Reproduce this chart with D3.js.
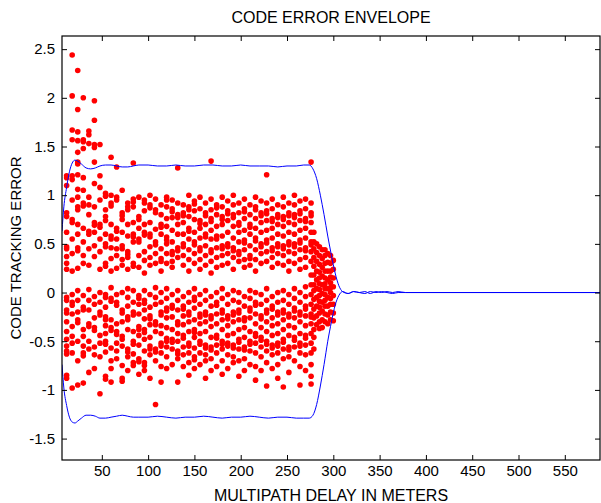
<!DOCTYPE html>
<html><head><meta charset="utf-8">
<script src="https://cdn.jsdelivr.net/npm/d3@7"></script>
<style>body{margin:0;background:#fff}svg{display:block}text{font-family:"Liberation Sans",Arial,sans-serif;fill:#000}</style>
</head><body><svg id="c" width="601" height="503"></svg>
<script>
const xCols = [12,18,24,30,36,42,48,54,60,66,72,78,84,90,96,102,108,114,120,126,132,138,144,150,156,162,168,174,180,186,192,198,204,210,216,222,228,234,240,246,252,258,264,270,276,279,282,285,288,291,294,297,300];
const yCols = [
[1.20,1.18,1.10,0.82,0.78,0.62,0.47,0.45,0.37,0.30,0.24,-0.05,-0.08,-0.18,-0.21,-0.30,-0.40,-0.48,-0.55,-0.60,-0.63,-0.85,-0.88],
[2.44,2.02,1.67,1.57,1.20,1.16,0.95,0.75,0.72,0.55,0.40,0.22,-0.02,-0.10,-0.13,-0.22,-0.35,-0.45,-0.52,-0.62,-0.98],
[2.28,1.88,1.65,1.56,1.44,1.34,1.32,1.21,1.06,0.98,0.88,0.85,0.70,0.60,0.46,0.43,0.25,0.02,-0.08,-0.20,-0.28,-0.31,-0.50,-0.70,-0.95],
[2.00,1.57,1.55,1.48,1.18,1.05,0.92,0.89,0.66,0.52,0.38,0.30,-0.03,-0.15,-0.18,-0.38,-0.45,-0.55,-0.62,-0.65,-0.93],
[1.66,1.62,1.53,0.98,0.90,0.80,0.63,0.60,0.45,0.28,0.03,-0.08,-0.18,-0.32,-0.35,-0.50,-0.58,-0.82],
[1.97,1.77,1.52,1.49,1.34,1.12,0.88,0.72,0.69,0.62,0.48,0.37,-0.04,-0.12,-0.26,-0.36,-0.39,-0.56,-0.64,-0.78],
[1.52,1.20,1.08,0.95,0.70,0.67,0.55,0.42,0.24,0.00,-0.10,-0.20,-0.23,-0.44,-0.52,-0.66,-1.04],
[1.02,0.99,0.85,0.78,0.74,0.60,0.50,0.47,0.30,0.27,-0.02,-0.05,-0.15,-0.25,-0.28,-0.34,-0.42,-0.50,-0.53,-0.61,-0.86,-0.89],
[1.39,1.00,0.92,0.89,0.70,0.58,0.55,0.46,0.35,0.22,0.05,-0.06,-0.09,-0.28,-0.36,-0.39,-0.57,-0.70,-0.78,-0.92],
[1.29,0.98,0.95,0.66,0.63,0.55,0.45,0.38,0.25,-0.02,-0.10,-0.13,-0.32,-0.40,-0.43,-0.52,-0.60,-0.68],
[1.05,0.82,0.79,0.75,0.62,0.48,0.45,0.34,0.28,0.00,-0.18,-0.21,-0.30,-0.45,-0.48,-0.55,-0.75,-0.88,-0.91],
[0.92,0.88,0.85,0.70,0.58,0.42,0.39,0.36,0.24,0.04,-0.05,-0.14,-0.25,-0.28,-0.38,-0.58,-0.61,-0.66,-0.80],
[1.33,0.96,0.93,0.88,0.72,0.60,0.57,0.52,0.30,0.27,0.02,-0.10,-0.20,-0.23,-0.40,-0.50,-0.53,-0.63,-0.72,-0.75],
[0.98,0.78,0.75,0.66,0.55,0.52,0.38,0.26,-0.03,-0.06,-0.12,-0.22,-0.35,-0.38,-0.44,-0.54,-0.68,-0.71,-0.84],
[0.95,0.92,0.84,0.70,0.62,0.59,0.42,0.33,0.20,0.02,-0.08,-0.11,-0.18,-0.27,-0.38,-0.41,-0.48,-0.60,-0.72,-0.75,-0.80],
[1.00,0.90,0.87,0.72,0.60,0.57,0.47,0.36,0.28,-0.02,-0.15,-0.24,-0.27,-0.33,-0.46,-0.55,-0.58,-0.64,-0.88],
[0.96,0.85,0.82,0.65,0.52,0.49,0.40,0.30,0.05,-0.05,-0.12,-0.30,-0.33,-0.40,-0.58,-0.61,-0.70,-1.15],
[0.90,0.80,0.70,0.67,0.60,0.45,0.35,0.32,0.22,0.00,-0.10,-0.20,-0.23,-0.34,-0.42,-0.52,-0.55,-0.62,-0.76,-0.92],
[0.98,0.95,0.88,0.76,0.68,0.57,0.54,0.50,0.40,0.30,0.04,-0.06,-0.16,-0.19,-0.26,-0.36,-0.47,-0.50,-0.56,-0.66,-0.78],
[0.95,0.86,0.83,0.77,0.64,0.52,0.42,0.39,0.32,0.26,-0.02,-0.13,-0.16,-0.25,-0.38,-0.48,-0.51,-0.58,-0.74],
[1.28,0.92,0.80,0.77,0.70,0.60,0.46,0.43,0.36,0.02,-0.08,-0.18,-0.30,-0.33,-0.42,-0.50,-0.60,-0.63,-0.68,-0.92],
[0.90,0.82,0.79,0.72,0.60,0.50,0.47,0.38,0.28,-0.04,-0.14,-0.17,-0.24,-0.33,-0.44,-0.47,-0.56,-0.64,-0.76],
[1.00,0.88,0.85,0.78,0.66,0.63,0.55,0.44,0.34,0.22,0.00,-0.10,-0.20,-0.23,-0.30,-0.40,-0.52,-0.55,-0.62,-0.72,-0.85],
[0.94,0.91,0.84,0.75,0.62,0.52,0.49,0.40,0.30,0.04,-0.05,-0.08,-0.16,-0.28,-0.38,-0.41,-0.46,-0.57,-0.66,-0.69,-0.78],
[0.98,0.86,0.74,0.71,0.66,0.56,0.46,0.43,0.34,0.24,-0.02,-0.12,-0.22,-0.25,-0.32,-0.42,-0.50,-0.53,-0.62,-0.74],
[0.92,0.82,0.79,0.70,0.60,0.57,0.48,0.38,0.28,0.02,-0.08,-0.20,-0.23,-0.30,-0.40,-0.54,-0.57,-0.64,-0.70,-0.88],
[1.35,0.96,0.85,0.76,0.73,0.64,0.55,0.44,0.41,0.32,0.20,-0.04,-0.14,-0.24,-0.27,-0.35,-0.46,-0.56,-0.59,-0.68,-0.80],
[0.90,0.87,0.80,0.68,0.58,0.55,0.46,0.36,0.26,0.00,-0.10,-0.13,-0.22,-0.32,-0.44,-0.47,-0.54,-0.62,-0.76],
[0.98,0.88,0.78,0.75,0.70,0.58,0.48,0.45,0.38,0.28,0.04,-0.06,-0.18,-0.21,-0.28,-0.38,-0.50,-0.53,-0.58,-0.70,-0.84],
[0.94,0.84,0.81,0.74,0.62,0.50,0.47,0.40,0.30,-0.02,-0.12,-0.24,-0.27,-0.34,-0.44,-0.52,-0.55,-0.64,-0.78],
[1.00,0.90,0.80,0.77,0.68,0.56,0.46,0.43,0.36,0.24,0.02,-0.08,-0.20,-0.23,-0.30,-0.42,-0.54,-0.57,-0.66,-0.72],
[0.92,0.82,0.72,0.69,0.62,0.52,0.42,0.39,0.32,0.00,-0.10,-0.18,-0.21,-0.28,-0.38,-0.48,-0.51,-0.58,-0.70,-0.86],
[0.96,0.86,0.83,0.76,0.64,0.54,0.51,0.44,0.34,0.26,-0.04,-0.14,-0.26,-0.29,-0.36,-0.46,-0.56,-0.59,-0.68,-0.80],
[0.90,0.80,0.70,0.67,0.60,0.48,0.38,0.35,0.28,0.02,-0.06,-0.16,-0.19,-0.26,-0.40,-0.50,-0.53,-0.60,-0.74],
[0.98,0.88,0.85,0.76,0.66,0.56,0.53,0.44,0.34,0.22,0.00,-0.10,-0.13,-0.22,-0.32,-0.42,-0.45,-0.52,-0.62,-0.76,-0.90],
[0.94,0.82,0.79,0.72,0.62,0.50,0.47,0.40,0.30,-0.02,-0.12,-0.24,-0.27,-0.36,-0.46,-0.49,-0.56,-0.66,-0.80],
[1.21,0.92,0.84,0.81,0.74,0.64,0.54,0.51,0.42,0.32,0.04,-0.08,-0.18,-0.21,-0.30,-0.40,-0.50,-0.53,-0.60,-0.72,-0.96],
[0.96,0.86,0.76,0.73,0.66,0.56,0.46,0.43,0.36,0.26,-0.04,-0.14,-0.17,-0.26,-0.34,-0.44,-0.54,-0.57,-0.64,-0.78],
[0.90,0.80,0.77,0.70,0.60,0.50,0.47,0.40,0.30,0.00,-0.10,-0.20,-0.23,-0.32,-0.42,-0.52,-0.55,-0.62,-0.74,-0.88],
[0.98,0.88,0.78,0.75,0.68,0.58,0.48,0.45,0.38,0.28,0.02,-0.08,-0.18,-0.21,-0.28,-0.38,-0.48,-0.51,-0.58,-0.68,-0.97],
[0.92,0.82,0.79,0.72,0.62,0.52,0.49,0.42,0.32,0.22,-0.02,-0.12,-0.22,-0.25,-0.34,-0.44,-0.56,-0.59,-0.66,-0.82],
[1.00,0.90,0.80,0.77,0.70,0.60,0.50,0.47,0.40,0.30,0.04,-0.06,-0.16,-0.19,-0.26,-0.36,-0.46,-0.49,-0.56,-0.70],
[0.94,0.84,0.81,0.74,0.64,0.54,0.51,0.44,0.34,0.24,0.00,-0.10,-0.20,-0.23,-0.30,-0.42,-0.52,-0.55,-0.62,-0.76,-0.95],
[0.96,0.86,0.76,0.73,0.66,0.56,0.46,0.43,0.36,0.26,0.06,-0.04,-0.14,-0.17,-0.24,-0.34,-0.44,-0.47,-0.54,-0.64,-0.80],
[1.34,0.92,0.82,0.79,0.72,0.62,0.52,0.49,0.42,0.32,0.18,0.08,-0.02,-0.12,-0.22,-0.25,-0.32,-0.42,-0.52,-0.62,-0.74,-0.86,-0.94],
[0.62,0.52,0.45,0.36,0.27,0.18,0.08,0.02,-0.07,-0.17,-0.26,-0.38,-0.46,-0.58],
[0.50,0.41,0.32,0.22,0.13,0.04,-0.05,-0.14,-0.24,-0.33],
[0.47,0.38,0.29,0.21,0.15,0.09,0.03,-0.03,-0.09,-0.15,-0.21,-0.30,-0.37],
[0.44,0.35,0.26,0.17,0.08,-0.01,-0.10,-0.19,-0.28,-0.36],
[0.44,0.38,0.30,0.22,0.15,0.09,0.04,-0.02,-0.08,-0.14,-0.22,-0.30],
[0.40,0.31,0.22,0.13,0.04,-0.05,-0.14,-0.23,-0.32],
[0.38,0.30,0.22,0.16,0.10,0.05,0.00,-0.06,-0.12,-0.20,-0.28],
[0.33,0.24,0.15,0.06,-0.03,-0.12,-0.21,-0.29]
];
const envX = [7,9,12,15,18,21,24,28,33,38,43,48,54,60,66,72,78,84,90,100,110,120,130,140,150,160,170,180,190,200,210,220,230,240,250,260,268,274,278,282,286,290,294,298,302,306,310,316,322,328,334,340,346,352,358,364,370,378,588];
const envUpper = [0.63,0.88,1.08,1.24,1.33,1.36,1.35,1.32,1.28,1.27,1.28,1.30,1.31,1.31,1.30,1.29,1.29,1.30,1.31,1.31,1.30,1.30,1.31,1.30,1.30,1.31,1.31,1.30,1.30,1.31,1.30,1.30,1.30,1.29,1.30,1.30,1.31,1.31,1.27,1.17,1.00,0.80,0.58,0.38,0.20,0.07,0.01,-0.01,0.01,0.00,0.01,-0.01,0.01,0.00,0.01,0.00,0.01,0.00,0.00];
const envLower = [-0.74,-0.98,-1.16,-1.28,-1.33,-1.34,-1.32,-1.29,-1.26,-1.26,-1.27,-1.29,-1.29,-1.28,-1.27,-1.26,-1.27,-1.28,-1.28,-1.28,-1.27,-1.28,-1.29,-1.28,-1.28,-1.27,-1.28,-1.29,-1.28,-1.28,-1.27,-1.28,-1.29,-1.28,-1.28,-1.29,-1.29,-1.29,-1.26,-1.15,-0.96,-0.74,-0.50,-0.30,-0.13,-0.03,0.01,-0.01,0.01,0.00,-0.01,0.01,0.00,0.01,0.00,-0.01,0.00,0.00,0.00];
const xTicks = [50,100,150,200,250,300,350,400,450,500,550];
const yTicks = [-1.5,-1,-0.5,0,0.5,1,1.5,2,2.5];

const L=62,T=36,R=600,B=460;
const svg = d3.select('#c');
const x = d3.scaleLinear().domain([7,588]).range([L,R]);
const y = d3.scaleLinear().domain([-1.72,2.635]).range([B,T]);

svg.append('defs').append('clipPath').attr('id','clip').append('rect')
  .attr('x',L).attr('y',T).attr('width',R-L).attr('height',B-T);

const pts = [];
xCols.forEach((xv,i)=>yCols[i].forEach(yv=>pts.push([xv,yv])));
const g = svg.append('g').attr('clip-path','url(#clip)');
g.selectAll('circle').data(pts).join('circle')
  .attr('cx',d=>x(d[0])).attr('cy',d=>y(d[1])).attr('r',2.8).attr('fill','#ff0000');

const line = d3.line().curve(d3.curveMonotoneX);
[envUpper,envLower].forEach(arr=>{
  g.append('path').attr('d',line(envX.map((xv,i)=>[x(xv),y(arr[i])])))
   .attr('fill','none').attr('stroke','#0000ff').attr('stroke-width',1);
});

const fmt = d=>String(d);
const gb = svg.append('g').attr('transform',`translate(0,${B})`).call(d3.axisBottom(x).tickValues(xTicks).tickFormat(fmt).tickSizeInner(-5).tickSizeOuter(0).tickPadding(5));
const gt = svg.append('g').attr('transform',`translate(0,${T})`).call(d3.axisTop(x).tickValues(xTicks).tickFormat('').tickSizeInner(-5).tickSizeOuter(0));
const gl = svg.append('g').attr('transform',`translate(${L},0)`).call(d3.axisLeft(y).tickValues(yTicks).tickFormat(fmt).tickSizeInner(-5).tickSizeOuter(0).tickPadding(7));
const gr = svg.append('g').attr('transform',`translate(${R},0)`).call(d3.axisRight(y).tickValues(yTicks).tickFormat('').tickSizeInner(-5).tickSizeOuter(0));
[gb,gt,gl,gr].forEach(a=>{a.selectAll('path').remove();a.selectAll('line').attr('stroke','#000');a.selectAll('text').style('font-size','15px').style('font-family','"Liberation Sans",Arial,sans-serif');});
svg.append('rect').attr('x',L).attr('y',T).attr('width',R-L).attr('height',B-T).attr('fill','none').attr('stroke','#000').attr('stroke-width',1.2);

svg.append('text').attr('x',(L+R)/2).attr('y',23).attr('text-anchor','middle').style('font-size','16px').text('CODE ERROR ENVELOPE');
svg.append('text').attr('x',(L+R)/2).attr('y',501).attr('text-anchor','middle').style('font-size','16px').text('MULTIPATH DELAY IN METERS');
svg.append('text').attr('transform',`translate(21,${(T+B)/2}) rotate(-90)`).attr('text-anchor','middle').style('font-size','15px').text('CODE TRACKING ERROR');
</script></body></html>
